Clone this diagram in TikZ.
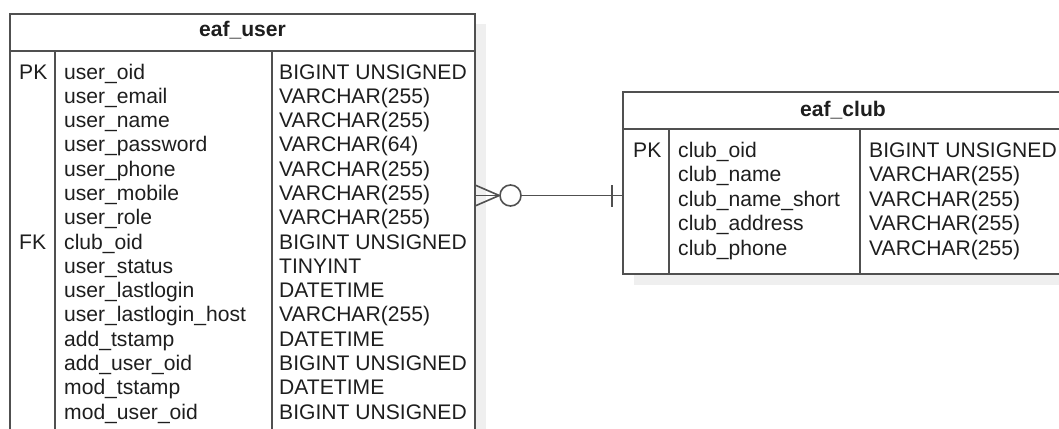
\documentclass[tikz,border=0pt]{standalone}
\usepackage{fontspec}
\setmainfont{Liberation Sans}
\definecolor{linec}{HTML}{505050}
\definecolor{txtc}{HTML}{1E1E1E}
\definecolor{shadowc}{HTML}{EFEFEF}
\tikzset{
  ln/.style={draw=linec, line width=1.6pt},
  tbl/.style={ln, fill=white, anchor=north west, inner sep=0pt, outer sep=0pt},
  fld/.style={anchor=base west, inner sep=0pt, text=txtc, font=\fontsize{21.1}{24}\selectfont},
  ttl/.style={anchor=base, inner sep=0pt, text=txtc, font=\bfseries\fontsize{21.1}{24}\selectfont},
  shade/.style={fill=shadowc, draw=none},
}
\begin{document}
\begin{tikzpicture}[x=1pt,y=-1pt]
\useasboundingbox[fill=white] (0,0) rectangle (1059,428);
% shadows
\fill[shade] (476,24) rectangle (486,460);
\fill[shade] (634,274) rectangle (1075,285);
% eaf_user table
\node[tbl, minimum width=465pt, minimum height=446pt] (user) at (10,14) {};
\draw[ln] (10,51) -- (475,51);
\draw[ln] (55,51) -- (55,460);
\draw[ln] (272,51) -- (272,460);
\node[ttl] (utitle) at (242.5,37) {eaf\_user};
\node[fld] (upk) at (19,79) {PK};
\node[fld] (ufk) at (19,249) {FK};
\foreach \n/\t [count=\i from 0] in {user\_oid/BIGINT UNSIGNED, user\_email/VARCHAR(255), user\_name/VARCHAR(255), user\_password/VARCHAR(64), user\_phone/VARCHAR(255), user\_mobile/VARCHAR(255), user\_role/VARCHAR(255), club\_oid/BIGINT UNSIGNED, user\_status/TINYINT, user\_lastlogin/DATETIME, user\_lastlogin\_host/VARCHAR(255), add\_tstamp/DATETIME, add\_user\_oid/BIGINT UNSIGNED, mod\_tstamp/DATETIME, mod\_user\_oid/BIGINT UNSIGNED}{
  \node[fld] (un\i) at (64,79+24.29*\i) {\n};
  \node[fld] (ut\i) at (279,79+24.29*\i) {\t};
}
% eaf_club table
\node[tbl, minimum width=440pt, minimum height=182pt] (club) at (623,92) {};
\draw[ln] (623,129) -- (1063,129);
\draw[ln] (669,129) -- (669,274);
\draw[ln] (860,129) -- (860,274);
\node[ttl] (ctitle) at (843,116) {eaf\_club};
\node[fld] (cpk) at (633,157) {PK};
\foreach \n/\t [count=\i from 0] in {club\_oid/BIGINT UNSIGNED, club\_name/VARCHAR(255), club\_name\_short/VARCHAR(255), club\_address/VARCHAR(255), club\_phone/VARCHAR(255)}{
  \node[fld] (cn\i) at (678,157+24.5*\i) {\n};
  \node[fld] (ct\i) at (869,157+24.5*\i) {\t};
}
% relationship: many (zero or more) users to one club
\node[ln, circle, fill=white, minimum size=21pt, inner sep=0pt] (opt) at (510.5,195.5) {};
\coordinate (ftop) at (user.north east |- 0,185);
\coordinate (fmid) at (user.north east |- 0,195.5);
\coordinate (fbot) at (user.north east |- 0,206);
\draw[ln] (ftop) -- (opt.west);
\draw[ln] (fmid) -- (opt.west);
\draw[ln] (fbot) -- (opt.west);
\coordinate (cend) at (club.north west |- opt.east);
\draw[ln] (opt.east) -- (cend);
\coordinate (ttop) at (612,185);
\coordinate (tbot) at (612,207);
\draw[ln] (ttop) -- (tbot);
\end{tikzpicture}
\end{document}
